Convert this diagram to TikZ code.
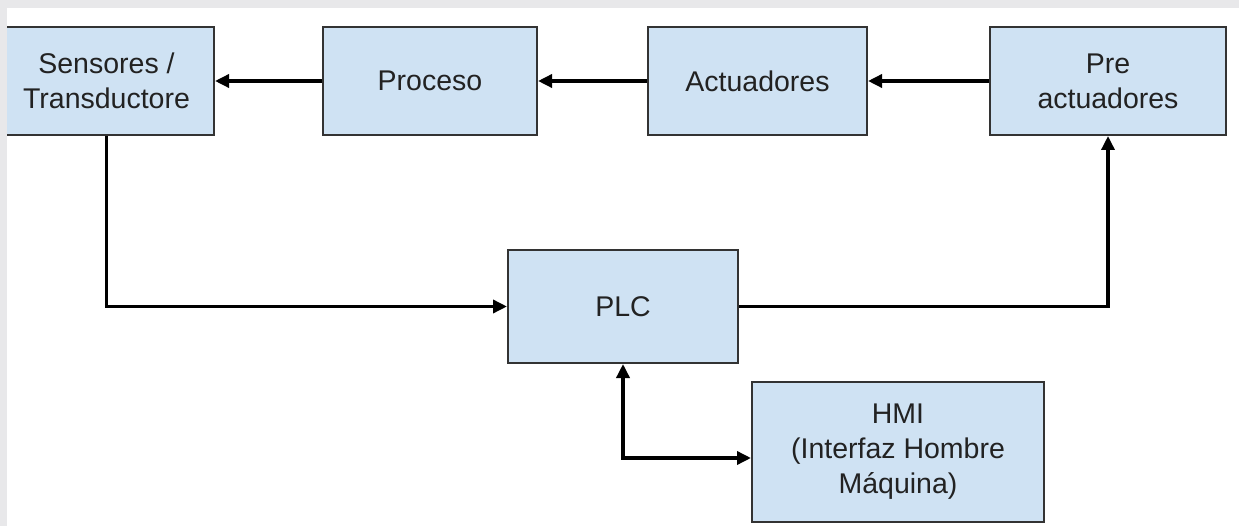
\documentclass[tikz,border=0pt]{standalone}
\usepackage{fontspec}
\setmainfont{Liberation Sans}
\usetikzlibrary{arrows.meta}
\definecolor{boxfill}{HTML}{CFE2F3}
\definecolor{boxline}{HTML}{333333}
\definecolor{bggray}{HTML}{E8E8EA}
\definecolor{txt}{HTML}{222222}
\begin{document}
\begin{tikzpicture}[x=1pt,y=-1pt,
  blk/.style={draw=boxline,line width=2pt,fill=boxfill,rectangle,inner sep=0pt,
    align=center,text=txt,font=\fontsize{28.5}{35}\selectfont},
  conn/.style={line width=3.4pt,draw=black,-{Triangle[length=14pt,width=13pt]}},
  conn2/.style={line width=3.4pt,draw=black,{Triangle[length=14pt,width=13pt]}-{Triangle[length=14pt,width=13pt]}}]
\fill[white] (0,0) rectangle (1239,526);
\useasboundingbox (0,0) rectangle (1239,526);
\node[blk,minimum width=215pt,minimum height=108pt] (sens) at (106.5,81) {Sensores /\\Transductore};
\node[blk,minimum width=214pt,minimum height=108pt] (proc) at (430,81) {Proceso};
\node[blk,minimum width=219pt,minimum height=108pt] (act) at (757.5,81) {Actuadores};
\node[blk,minimum width=236pt,minimum height=108pt] (pre) at (1108,81) {Pre\\actuadores};
\node[blk,minimum width=230pt,minimum height=113pt] (plc) at (623,306.5) {PLC};
\node[blk,minimum width=292pt,minimum height=140pt] (hmi) at (898,452) {HMI\\(Interfaz Hombre\\Máquina)};
\draw[conn] (proc.west) -- (sens.east);
\draw[conn] (act.west) -- (proc.east);
\draw[conn] (pre.west) -- (act.east);
\draw[conn] (sens.south) |- (plc.west);
\draw[conn] (plc.east) -| (pre.south);
\draw[conn2] (plc.south) |- ([yshift=-6pt]hmi.west);
\fill[bggray] (0,0) rectangle (1239,8);
\fill[bggray] (0,0) rectangle (7,526);
\end{tikzpicture}
\end{document}
